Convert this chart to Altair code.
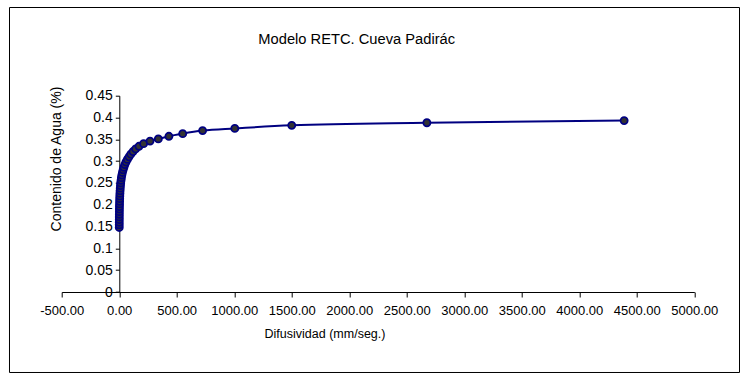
import altair as alt
import pandas as pd

# Data
difusividad = [0.3, 0.4, 0.5, 0.7, 0.9, 1.1, 1.4, 1.8, 2.2, 2.8, 3.4, 4.2, 5.1, 6.2,
               7.5, 9.0, 11, 13, 16, 19, 23, 28, 34, 41, 49, 59, 71, 85, 101, 120,
               143, 172, 212, 268, 340, 432, 552, 725, 1005, 1500, 2675, 4390]
contenido = [0.148, 0.154, 0.160, 0.166, 0.172, 0.178, 0.184, 0.190, 0.196, 0.202,
             0.208, 0.214, 0.220, 0.226, 0.232, 0.238, 0.244, 0.250, 0.256, 0.262,
             0.268, 0.274, 0.280, 0.286, 0.292, 0.298, 0.304, 0.310, 0.316, 0.322,
             0.328, 0.334, 0.340, 0.346, 0.351, 0.357, 0.363, 0.370, 0.375, 0.382,
             0.388, 0.393]
x_ticks = [-500, 0, 500, 1000, 1500, 2000, 2500, 3000, 3500, 4000, 4500, 5000]
y_ticks = [0, 0.05, 0.1, 0.15, 0.2, 0.25, 0.3, 0.35, 0.4, 0.45]
titulo = "Modelo RETC. Cueva Padirác"
x_titulo = "Difusividad (mm/seg.)"
y_titulo = "Contenido de Agua (%)"

df = pd.DataFrame({"x": difusividad, "y": contenido})

FONT = "Liberation Sans, Arial"

L, T = 61.7, 95.7
W = 694.3 - L
H = 292.0 - T

xs = alt.Scale(domain=[-500, 5000], nice=False, zero=False)
ys = alt.Scale(domain=[0, 0.45], nice=False)

base = alt.Chart(df).encode(
    x=alt.X("x:Q", scale=xs,
            axis=alt.Axis(values=x_ticks, title=None, grid=False,
                          labelExpr="replace(format(datum.value, '.2f'), '\u2212', '-')",
                          labelFont=FONT, labelFontSize=13, labelColor="black",
                          tickColor="black", tickSize=5, domainColor="black",
                          labelPadding=7, labelFlush=False, labelOverlap=False)),
    y=alt.Y("y:Q", scale=ys,
            axis=alt.Axis(values=y_ticks, title=None, grid=False, format="~g",
                          offset=-57.6, labelFont=FONT, labelFontSize=14,
                          labelColor="black", tickColor="black", tickSize=4,
                          domainColor="black", labelPadding=3,
                          labelFlush=False, labelOverlap=False)),
)

line = base.mark_line(color="#000080", strokeWidth=2, interpolate="monotone")

points = base.mark_point(filled=True, fill="#333333", stroke="#000080",
                         strokeWidth=1.8, size=50, opacity=1)

title_txt = alt.Chart(pd.DataFrame({"t": [titulo]})).mark_text(
    font=FONT, fontSize=14.7, color="black", align="center", baseline="middle"
).encode(x=alt.value(356.7 - L), y=alt.value(40 - T), text="t:N")

xt = alt.Chart(pd.DataFrame({"t": [x_titulo]})).mark_text(
    font=FONT, fontSize=12.5, color="black", align="center", baseline="middle"
).encode(x=alt.value(325 - L), y=alt.value(334 - T), text="t:N")

yt = alt.Chart(pd.DataFrame({"t": [y_titulo]})).mark_text(
    font=FONT, fontSize=14, color="black", align="center", baseline="middle", angle=270
).encode(x=alt.value(57 - L), y=alt.value(159 - T), text="t:N")

frame = alt.Chart(pd.DataFrame({"a": [0]})).mark_rect(
    fill=None, stroke="black", strokeWidth=1, clip=False
).encode(x=alt.value(9.5 - L), x2=alt.value(739.5 - L),
         y=alt.value(7.5 - T), y2=alt.value(372.5 - T))

chart = alt.layer(frame, line, points, title_txt, xt, yt).properties(
    width=W, height=H,
    autosize=alt.AutoSizeParams(type="none"),
    padding={"left": L, "top": T, "right": 741 - L - W, "bottom": 374 - T - H},
    background="white",
).configure_view(stroke=None)

chart.save("out.html", embed_options={"renderer": "svg", "actions": False})
